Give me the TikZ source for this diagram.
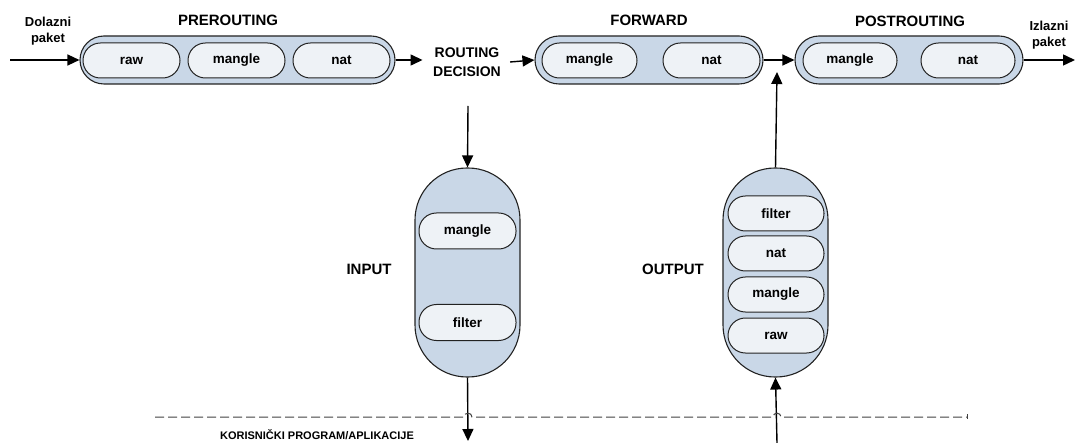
\documentclass[tikz,border=0pt]{standalone}
\usepackage{fontspec}
\setmainfont{Liberation Sans}
\usetikzlibrary{arrows.meta}
\definecolor{chainfill}{HTML}{C9D7E7}
\definecolor{tablefill}{HTML}{EEF2F6}
\definecolor{edge}{HTML}{222222}
\tikzset{
  outerbox/.style={draw=edge, line width=1.1pt, fill=chainfill, inner sep=0pt},
  hchain/.style={outerbox, minimum height=48pt, rounded corners=24pt},
  vchain/.style={outerbox, minimum width=105pt, minimum height=209pt, rounded corners=52pt},
  innerbox/.style={draw=edge, line width=1pt, fill=tablefill, inner sep=0pt,
    minimum height=35pt, rounded corners=17.4pt, font=\bfseries\fontsize{13.5}{15}\selectfont},
  ttl/.style={font=\bfseries\fontsize{15}{17}\selectfont, inner sep=0pt},
  lbl/.style={font=\bfseries\fontsize{13}{16}\selectfont, align=center, inner sep=0pt},
  arr/.style={draw=black, line width=1.4pt, -{Triangle[length=12pt,width=11pt]}},
  sepline/.style={draw=black!75, line width=1pt, dash pattern=on 9pt off 4pt},
}
\begin{document}
\begin{tikzpicture}[x=1pt, y=-1pt]
\useasboundingbox (0,0) rectangle (1075,443);

% PREROUTING chain
\node[hchain, minimum width=315pt] (pre) at (237.5,60) {};
\node[innerbox, minimum width=97pt] (preraw) at (131.5,60.5) {raw};
\node[innerbox, minimum width=97pt] (premangle) at (236.5,60.5) {mangle};
\node[innerbox, minimum width=97pt] (prenat) at (341.5,60.5) {nat};
\node[ttl] (pretitle) at (228,20) {PREROUTING};

% FORWARD chain
\node[hchain, minimum width=228pt] (fwd) at (649,60) {};
\node[innerbox, minimum width=95pt] (fwdmangle) at (589.5,60.5) {mangle};
\node[innerbox, minimum width=97pt] (fwdnat) at (711.5,60.5) {nat};
\node[ttl] (fwdtitle) at (649,20) {FORWARD};

% POSTROUTING chain
\node[hchain, minimum width=228pt] (post) at (909,60) {};
\node[innerbox, minimum width=94pt] (postmangle) at (850,60.5) {mangle};
\node[innerbox, minimum width=94pt] (postnat) at (968,60.5) {nat};
\node[ttl] (posttitle) at (910,21) {POSTROUTING};

% INPUT chain
\node[vchain] (inp) at (467.5,272.5) {};
\node[innerbox, minimum width=97pt, minimum height=36pt] (inpmangle) at (467.5,231) {mangle};
\node[innerbox, minimum width=97pt, minimum height=36pt] (inpfilter) at (467.5,322.5) {filter};
\node[ttl] (inptitle) at (369,269) {INPUT};

% OUTPUT chain
\node[vchain] (out) at (775.5,272.5) {};
\node[innerbox, minimum width=96pt] (outfilter) at (776,213.5) {filter};
\node[innerbox, minimum width=96pt] (outnat) at (776,253.5) {nat};
\node[innerbox, minimum width=96pt] (outmangle) at (776,294.5) {mangle};
\node[innerbox, minimum width=96pt] (outraw) at (776,335.5) {raw};
\node[ttl] (outtitle) at (673,269) {OUTPUT};

% labels
\node[lbl] (in) at (48,31) {Dolazni\\paket};
\node[lbl] (outpkt) at (1049,35) {Izlazni\\paket};
\node[lbl, font=\bfseries\fontsize{14}{19}\selectfont] (rd) at (467,62) {ROUTING\\DECISION};
\node[font=\bfseries\fontsize{11}{12}\selectfont, inner sep=0pt] (user) at (317,435) {KORISNIČKI PROGRAM/APLIKACIJE};

% free ends of the connectors
\coordinate (src) at (10,60);
\coordinate (dst) at (1075,60);
\coordinate (rdtop) at (468,106);
\coordinate (inpend) at (468,441);
\coordinate (outstart) at (777,443);
\coordinate (join) at (777,72);

% connectors
\draw[arr] (src) -- (pre.west);
\draw[arr] (pre.east) -- ([xshift=27pt]pre.east);
\draw[arr] ([xshift=9pt]rd.east) -- (fwd.west);
\draw[arr] (fwd.east) -- (post.west);
\draw[arr] (post.east) -- (dst);
\draw[arr] (rdtop) -- (inp.north);
\draw[arr] (inp.south) -- (inpend);
\draw[arr] (outstart) -- (out.south);
\draw[arr] (out.north) -- (join);

% kernel / user space boundary, hopping over the two connectors
\draw[sepline] (155,417) -- (464,417) .. controls (464,412) and (472,412) .. (472,417)
  -- (773,417) .. controls (773,412) and (781,412) .. (781,417) -- (967,417);
\draw[draw=black!75, line width=1pt] (967,414) -- (967,419);
\end{tikzpicture}
\end{document}
